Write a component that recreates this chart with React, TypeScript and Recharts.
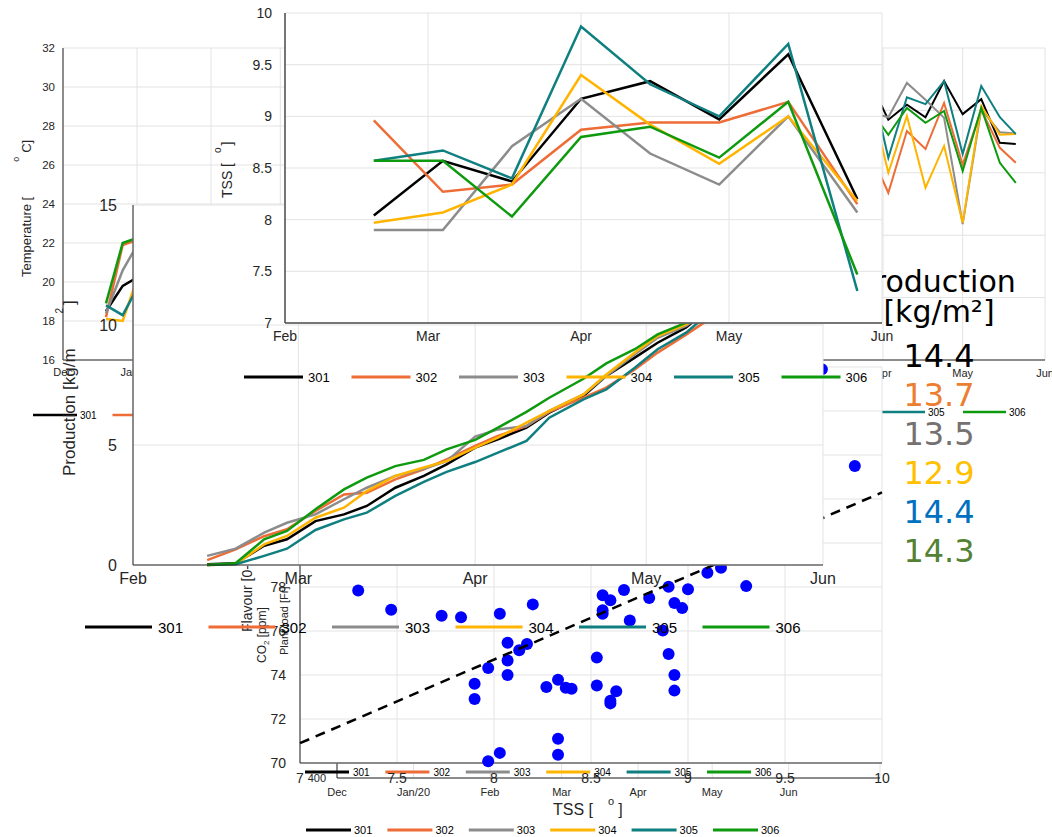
import React from "react";
import {
  LineChart, Line, XAxis, YAxis, CartesianGrid, ScatterChart, Scatter,
} from "recharts";

const W = 1052;
const H = 837;
const FONT = '"Liberation Sans", Arial, sans-serif';
const AXIS = "#262626";
const GRID = "#e3e3e3";
const YW = 40;
const XH = 30;

// series
const seriesNames = ["301", "302", "303", "304", "305", "306"];
const lineColors = ["#000000", "#ee6c36", "#8c8c8c", "#ffb400", "#0f7f80", "#0e9a0e"];

// month ticks (days from 1 Dec 2019 / from 1 Feb 2020)
const monthLabels = ["Dec", "Jan/20", "Feb", "Mar", "Apr", "May", "Jun"];
const monthDays = [0, 31, 62, 91, 122, 152, 183];
const springLabels = ["Feb", "Mar", "Apr", "May", "Jun"];
const springDays = [0, 29, 60, 90, 121];

// temperature [°C], weekly
const tempDays = [18, 25, 32, 39, 46, 53, 60, 67, 74, 81, 88];
const temp301 = [18.5, 19.8, 20.3, 20.6, 20.2, 20.8, 21.3, 21.0, 21.6, 22.0, 22.4];
const temp302 = [18.2, 21.9, 22.2, 21.8, 22.0, 21.5, 22.3, 22.6, 22.1, 22.8, 23.0];
const temp303 = [18.4, 20.6, 22.1, 21.7, 21.2, 21.9, 22.2, 22.5, 22.0, 22.7, 23.1];
const temp304 = [18.1, 18.0, 20.5, 20.9, 21.2, 20.8, 21.5, 21.9, 21.4, 22.1, 22.5];
const temp305 = [18.8, 18.3, 19.9, 20.7, 21.0, 20.6, 21.4, 21.8, 21.3, 22.0, 22.6];
const temp306 = [18.9, 22.0, 22.3, 22.0, 22.4, 21.8, 22.5, 22.8, 22.3, 23.0, 23.3];
const tempTicks = [16, 18, 20, 22, 24, 26, 28, 30, 32];

// right-hand panel (humidity %), weekly
const rightDays = [117, 124, 131, 138, 145, 152, 159, 166, 172];
const right301 = [94.7, 88.5, 90.9, 88.9, 94.7, 89.4, 91.8, 84.8, 84.6];
const right302 = [83.5, 76.8, 86.7, 83.8, 91.2, 81.3, 90.1, 84.0, 81.6];
const right303 = [89.7, 88.9, 94.4, 91.7, 88.8, 71.8, 90.2, 86.5, 86.3];
const right304 = [92.5, 80.0, 89.1, 77.6, 84.3, 72.0, 90.7, 86.1, 86.2];
const right305 = [95.4, 82.4, 92.1, 91.0, 94.7, 83.0, 93.9, 88.9, 86.2];
const right306 = [90.2, 86.1, 90.4, 88.0, 89.9, 80.3, 90.4, 81.6, 78.4];
const rightTicks = [50, 60, 70, 80, 90, 100];

// CO2 [ppm]
const co2Days = [14, 35, 56, 77, 98, 119, 140, 161];
const co2_301 = [620, 700, 760, 680, 720, 650, 590, 560];
const co2_302 = [600, 690, 740, 700, 710, 640, 600, 570];
const co2_303 = [640, 720, 770, 690, 730, 660, 610, 580];
const co2_304 = [610, 680, 750, 670, 700, 630, 580, 550];
const co2_305 = [630, 710, 780, 710, 740, 670, 620, 590];
const co2_306 = [590, 670, 730, 660, 690, 620, 570, 540];
const co2Ticks = [400, 600, 800, 1000];

// TSS [°Brix], every two weeks
const tssDays = [18, 32, 46, 60, 74, 88, 102, 116];
const tss301 = [8.04, 8.57, 8.37, 9.17, 9.34, 8.97, 9.60, 8.20];
const tss302 = [8.96, 8.27, 8.34, 8.87, 8.94, 8.94, 9.14, 8.15];
const tss303 = [7.90, 7.90, 8.71, 9.17, 8.64, 8.34, 9.00, 8.07];
const tss304 = [7.97, 8.07, 8.34, 9.40, 8.92, 8.54, 9.00, 8.18];
const tss305 = [8.57, 8.67, 8.40, 9.87, 9.31, 9.00, 9.70, 7.31];
const tss306 = [8.57, 8.57, 8.03, 8.80, 8.90, 8.60, 9.14, 7.47];
const tssTicks = [7, 7.5, 8, 8.5, 9, 9.5, 10];

// cumulative production [kg/m2]
const prodDays = [13, 18, 23, 27, 32, 37, 41, 46, 51, 55, 60, 64, 69, 73, 79, 83, 88, 92, 97, 102, 106, 111, 115, 119];
const prod301 = [0.03, 0.07, 0.8, 1.07, 1.83, 2.11, 2.46, 3.22, 3.71, 4.19, 4.89, 5.24, 5.72, 6.35, 7.04, 7.88, 8.64, 9.26, 9.9, 10.9, 11.8, 12.8, 13.6, 14.4];
const prod302 = [0.2, 0.65, 1.2, 1.49, 2.25, 2.94, 3.01, 3.57, 3.99, 4.4, 4.96, 5.38, 5.79, 6.38, 6.97, 7.39, 8.15, 8.85, 9.6, 10.4, 11.3, 12.2, 12.9, 13.7];
const prod303 = [0.38, 0.68, 1.35, 1.76, 2.11, 2.74, 3.22, 3.71, 4.01, 4.33, 5.35, 5.65, 5.79, 6.42, 7.11, 7.88, 8.78, 9.47, 9.96, 10.8, 11.6, 12.4, 13.0, 13.5];
const prod304 = [0, 0.03, 0.86, 1.21, 1.97, 2.39, 3.08, 3.71, 4.06, 4.33, 4.89, 5.31, 5.93, 6.42, 7.11, 7.94, 8.85, 9.54, 10.03, 10.8, 11.5, 12.1, 12.5, 12.9];
const prod305 = [0, 0.03, 0.38, 0.68, 1.46, 1.90, 2.18, 2.88, 3.46, 3.88, 4.29, 4.68, 5.17, 6.14, 6.90, 7.32, 8.22, 8.99, 9.68, 10.7, 11.6, 12.6, 13.5, 14.4];
const prod306 = [0, 0.07, 1.07, 1.42, 2.32, 3.15, 3.64, 4.12, 4.38, 4.82, 5.21, 5.72, 6.38, 6.97, 7.76, 8.40, 8.99, 9.61, 10.1, 10.9, 11.8, 12.6, 13.5, 14.3];
const prodTicks = [0, 5, 10, 15];

// final production summary
const finalProduction = [14.4, 13.7, 13.5, 12.9, 14.4, 14.3];
const summaryColors = ["#000000", "#ed7d31", "#767171", "#ffc000", "#0070c0", "#548235"];

// flavour vs TSS
const scatterTss = [7.30, 7.47, 7.73, 7.83, 8.03, 8.20, 8.07, 8.17, 8.13, 8.07, 7.97, 8.07, 7.90, 7.90, 7.97, 8.03, 8.33, 8.33, 8.27, 8.33, 8.37, 8.40, 8.53, 8.53, 8.60, 8.60, 8.63, 8.56, 8.60, 8.56, 8.56, 8.67, 8.70, 8.80, 8.90, 8.87, 8.90, 8.93, 8.97, 8.93, 8.93, 9.00, 9.10, 9.17, 9.30, 9.69, 9.86];
const scatterFlavour = [77.84, 76.97, 76.69, 76.63, 76.78, 77.21, 75.47, 75.41, 75.13, 74.66, 74.32, 74.00, 73.60, 72.91, 70.08, 70.46, 71.10, 70.38, 73.45, 73.78, 73.42, 73.37, 74.79, 73.52, 72.83, 72.71, 73.26, 77.63, 77.40, 76.94, 76.78, 77.86, 76.48, 77.50, 78.01, 76.02, 74.95, 77.27, 77.04, 74.00, 73.29, 77.90, 78.65, 78.88, 78.04, 87.9, 83.5];
const fitTss = [7, 10];
const fitFlavour = [70.9, 82.3];
const scatterXTicks = [7, 7.5, 8, 8.5, 9, 9.5, 10];
const scatterYTicks = [70, 72, 74, 76, 78, 80, 82, 84, 86, 88];

const toRows = (xs: number[], cols: number[][]) =>
  xs.map((d, i) => {
    const r: any = { day: d };
    seriesNames.forEach((n, k) => (r[n] = cols[k][i]));
    return r;
  });

const tempRows = toRows(tempDays, [temp301, temp302, temp303, temp304, temp305, temp306]);
const rightRows = toRows(rightDays, [right301, right302, right303, right304, right305, right306]);
const co2Rows = toRows(co2Days, [co2_301, co2_302, co2_303, co2_304, co2_305, co2_306]);
const tssRows = toRows(tssDays, [tss301, tss302, tss303, tss304, tss305, tss306]);
const prodRows = toRows(prodDays, [prod301, prod302, prod303, prod304, prod305, prod306]);
const scatterPoints = scatterTss.map((t, i) => ({ x: t, y: scatterFlavour[i] }));
const fitPoints = fitTss.map((t, i) => ({ x: t, y: fitFlavour[i] }));

// plot box (page coords) -> chart margins
const box = (l: number, t: number, r: number, b: number) => ({
  left: l - YW, top: t, right: W - r, bottom: H - b - XH,
});
const monthFmt = (v: number) => monthLabels[monthDays.indexOf(v)] ?? "";
const springFmt = (v: number) => springLabels[springDays.indexOf(v)] ?? "";
const tickStyle = (size: number) => ({ fontSize: size, fill: AXIS, fontFamily: FONT });

const Layer = ({ children }: any) => (
  <div style={{ position: "absolute", left: 0, top: 0 }}>{children}</div>
);

const Overlay = ({ children }: any) => (
  <svg width={W} height={H} style={{ position: "absolute", left: 0, top: 0 }} fontFamily={FONT}>
    {children}
  </svg>
);

const LegendRow = ({ x0, y, step, len, gap, size, width }: any) => (
  <g>
    {seriesNames.map((n, i) => {
      const x = x0 + i * step;
      return (
        <g key={n}>
          <line x1={x} x2={x + len} y1={y} y2={y} stroke={lineColors[i]} strokeWidth={width} />
          <text x={x + len + gap} y={y} fontSize={size} dominantBaseline="central" fill="#000">{n}</text>
        </g>
      );
    })}
  </g>
);

const seriesLines = (w: number) =>
  seriesNames.map((n, i) => (
    <Line key={n} type="linear" dataKey={n} stroke={lineColors[i]} strokeWidth={w}
      dot={false} isAnimationActive={false} />
  ));

export default function App() {
  return (
    <div style={{ position: "absolute", left: 0, top: 0, width: W, height: H, background: "#fff", overflow: "hidden", fontFamily: FONT }}>
      {/* temperature */}
      <Layer>
        <LineChart width={W} height={H} data={tempRows} margin={box(63, 48, 500, 360)}>
          <CartesianGrid stroke={GRID} />
          <XAxis type="number" dataKey="day" domain={[0, 183]} ticks={monthDays} interval={0}
            tickFormatter={monthFmt} height={XH} tick={tickStyle(11)} axisLine={{ stroke: AXIS }} tickLine={false} />
          <YAxis type="number" domain={[16, 32]} ticks={tempTicks} interval={0} width={YW}
            tick={tickStyle(11.5)} axisLine={{ stroke: AXIS }} tickLine={false} />
          {seriesLines(2.5)}
        </LineChart>
      </Layer>
      <Overlay>
        <LegendRow x0={33} y={415} step={79.5} len={44} gap={3} size={10} width={2.5} />
        <text x={31} y={277} fontSize={13} fill={AXIS} transform="rotate(-90 31 277)">
          Temperature [<tspan dx={35} dy={-12} fontSize={9}>o</tspan><tspan dx={4} dy={12}>C]</tspan>
        </text>
      </Overlay>

      {/* right panel */}
      <Layer>
        <LineChart width={W} height={H} data={rightRows} margin={box(559, 48, 1045, 360)}>
          <CartesianGrid stroke={GRID} />
          <XAxis type="number" dataKey="day" domain={[0, 183]} ticks={monthDays} interval={0}
            tickFormatter={monthFmt} height={XH} tick={tickStyle(11)} tickMargin={3}
            axisLine={{ stroke: AXIS }} tickLine={false} />
          <YAxis type="number" domain={[50, 100]} ticks={rightTicks} interval={0} width={YW}
            tick={tickStyle(11)} axisLine={{ stroke: AXIS }} tickLine={false} />
          {seriesLines(2)}
        </LineChart>
      </Layer>
      <Overlay>
        <LegendRow x0={558} y={412} step={81} len={43} gap={3} size={10} width={2.5} />
      </Overlay>

      {/* CO2 */}
      <Layer>
        <LineChart width={W} height={H} data={co2Rows} margin={box(337, 580, 880, 778)}>
          <CartesianGrid stroke={GRID} />
          <XAxis type="number" dataKey="day" domain={[0, 220]} ticks={monthDays} interval={0}
            tickFormatter={monthFmt} height={XH} tick={tickStyle(11)} tickMargin={4}
            axisLine={{ stroke: AXIS }} tickLine={false} />
          <YAxis type="number" domain={[400, 1000]} ticks={co2Ticks} interval={0} width={YW}
            tick={tickStyle(11)} tickMargin={5} axisLine={{ stroke: AXIS }} tickLine={false} />
          {seriesLines(2)}
        </LineChart>
      </Layer>
      <Overlay>
        <LegendRow x0={305} y={772} step={80.4} len={44} gap={4} size={10} width={3} />
      </Overlay>

      {/* flavour vs TSS */}
      <Layer>
        <ScatterChart width={W} height={H} margin={box(300, 367, 882, 763)}>
          <CartesianGrid stroke={GRID} fill="#fff" fillOpacity={1} />
          <XAxis type="number" dataKey="x" domain={[7, 10]} ticks={scatterXTicks} interval={0}
            height={XH} tick={tickStyle(14)} tickMargin={4} axisLine={{ stroke: AXIS }} tickLine={false} />
          <YAxis type="number" dataKey="y" domain={[70, 88]} ticks={scatterYTicks} interval={0} width={YW}
            tick={tickStyle(14)} tickMargin={8} axisLine={{ stroke: AXIS }} tickLine={false} />
          <Scatter data={scatterPoints} isAnimationActive={false}
            shape={(p: any) => <circle cx={p.cx} cy={p.cy} r={6} fill="#0000ff" />} />
          <Scatter data={fitPoints} isAnimationActive={false} shape={() => <g />}
            line={{ stroke: "#000", strokeWidth: 2.5, strokeDasharray: "10 7" }} />
        </ScatterChart>
      </Layer>
      <Overlay>
        <LegendRow x0={306} y={830} step={81.4} len={45} gap={3} size={11} width={3} />
        <text x={553} y={815} fontSize={16} fill={AXIS}>
          TSS [<tspan dx={15} dy={-10} fontSize={11}>o</tspan><tspan dx={4} dy={10}>]</tspan>
        </text>
        <text x={252} y={632} fontSize={14} fill={AXIS} transform="rotate(-90 252 632)">Flavour [0-10]</text>
        <text x={266} y={663} fontSize={12} fill={AXIS} transform="rotate(-90 266 663)">
          CO<tspan dy={3} fontSize={8}>2</tspan><tspan dy={-3}> [ppm]</tspan>
        </text>
        <text x={288} y={655} fontSize={11} fill={AXIS} transform="rotate(-90 288 655)">Plant load [Fr]</text>
      </Overlay>

      {/* production */}
      <Layer>
        <LineChart width={W} height={H} data={prodRows} margin={box(133, 205, 823, 565)}>
          <CartesianGrid stroke={GRID} fill="#fff" fillOpacity={1} />
          <XAxis type="number" dataKey="day" domain={[0, 121]} ticks={springDays} interval={0}
            tickFormatter={springFmt} height={XH} tick={tickStyle(16)} axisLine={{ stroke: AXIS }} tickLine={false} />
          <YAxis type="number" domain={[0, 15]} ticks={prodTicks} interval={0} width={YW}
            tick={tickStyle(16)} tickMargin={10} axisLine={{ stroke: AXIS }} tickLine={false} />
          {seriesLines(2.5)}
        </LineChart>
      </Layer>
      <Overlay>
        <LegendRow x0={85} y={627} step={123.5} len={67} gap={6} size={15} width={3} />
        <text x={75} y={476} fontSize={17} fill={AXIS} transform="rotate(-90 75 476)">
          Production [kg/m<tspan dx={35} dy={-12} fontSize={10}>2</tspan><tspan dx={3} dy={12}>]</tspan>
        </text>
      </Overlay>

      {/* TSS */}
      <Layer>
        <LineChart width={W} height={H} data={tssRows} margin={box(285, 13, 882, 323)}>
          <CartesianGrid stroke={GRID} fill="#fff" fillOpacity={1} />
          <XAxis type="number" dataKey="day" domain={[0, 121]} ticks={springDays} interval={0}
            tickFormatter={springFmt} height={XH} tick={tickStyle(14)} axisLine={{ stroke: "#4d4d4d", strokeWidth: 1.5 }} tickLine={false} />
          <YAxis type="number" domain={[7, 10]} ticks={tssTicks} interval={0} width={YW}
            tick={tickStyle(14)} tickMargin={7} axisLine={{ stroke: "#4d4d4d", strokeWidth: 1.5 }} tickLine={false} />
          {seriesLines(2.5)}
        </LineChart>
      </Layer>
      <Overlay>
        <LegendRow x0={244} y={377} step={107.5} len={59} gap={5} size={13} width={3} />
        <text x={232} y={198} fontSize={14} fill={AXIS} transform="rotate(-90 232 198)">
          TSS [<tspan dx={10} dy={-11} fontSize={10}>o</tspan><tspan dx={2} dy={11}>]</tspan>
        </text>
      </Overlay>

      {/* production summary */}
      <svg width={170} height={330} style={{ position: "absolute", left: 882, top: 250 }}
        fontFamily='"DejaVu Sans", Verdana, sans-serif'>
        <text x={54} y={42} fontSize={30} textAnchor="middle" fill="#000">Production</text>
        <text x={57} y={72} fontSize={30} textAnchor="middle" fill="#000">[kg/m²]</text>
        {finalProduction.map((v, i) => (
          <text key={i} x={57} y={117 + i * 39} fontSize={32} textAnchor="middle" fill={summaryColors[i]}>
            {v.toFixed(1)}
          </text>
        ))}
      </svg>
    </div>
  );
}
